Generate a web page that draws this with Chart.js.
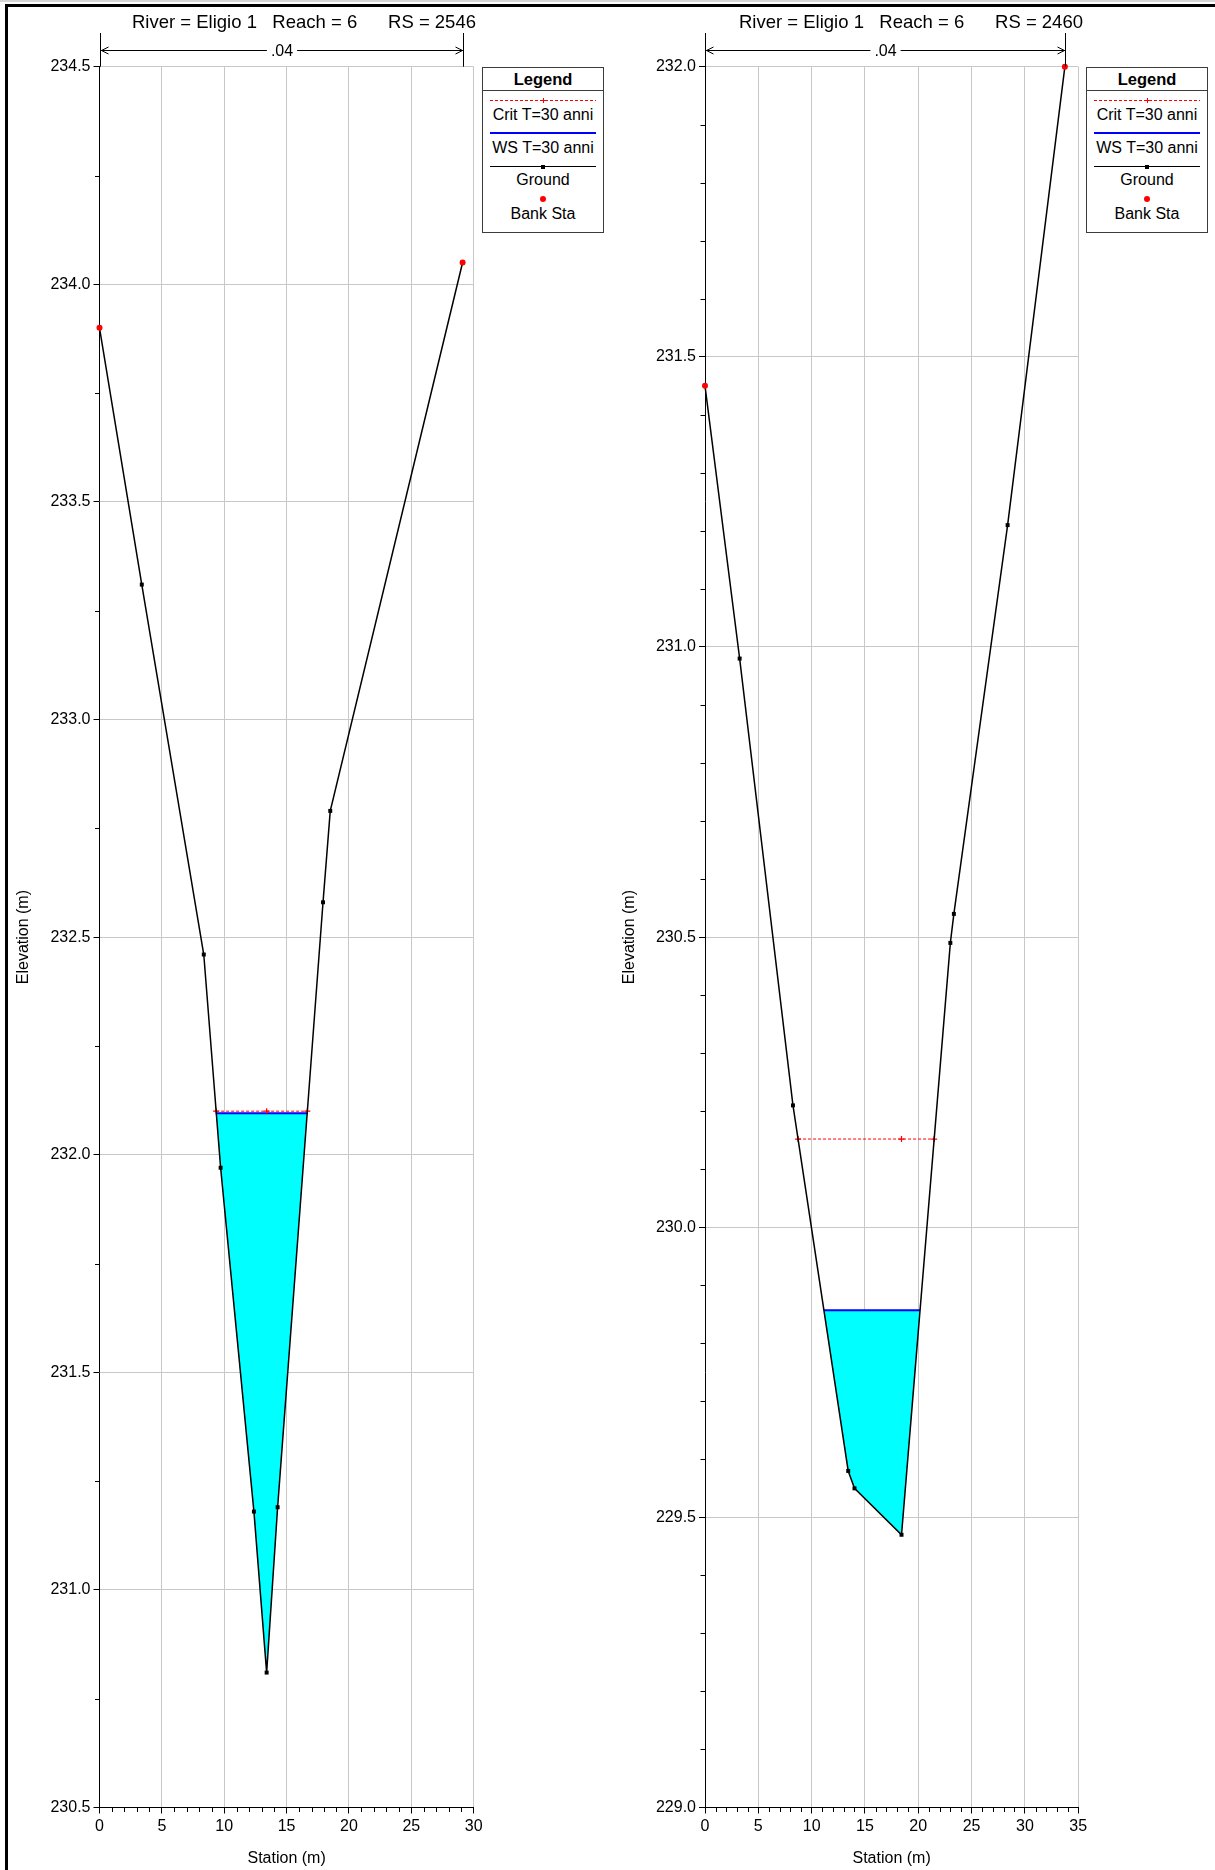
<!DOCTYPE html>
<html>
<head>
<meta charset="utf-8">
<title>Eligio 1 - cross sections RS 2546 / RS 2460</title>
<script src="https://cdn.jsdelivr.net/npm/chart.js@4.4.1/dist/chart.umd.min.js"></script>
<style>
  html, body { margin: 0; padding: 0; background: #fff; }
  body { font-family: "Liberation Sans", Arial, Helvetica, sans-serif; color: #000; }
  #page { position: relative; width: 1215px; height: 1870px; overflow: hidden; background: #fff; }
  #chrome { position: absolute; left: 0; top: 0; width: 1215px; height: 2px; background: #d6d6d6; }
  #frame { position: absolute; left: 5px; top: 4px; width: 1240px; height: 1900px;
           border-left: 3px solid #000; border-top: 3px solid #000; }
  canvas { position: absolute; top: 0; }
  .title { position: absolute; top: 11px; width: 600px; height: 22px; line-height: 22px;
           font-size: 18.5px; white-space: pre; text-align: center; }
  .legend { position: absolute; top: 67px; width: 122px; height: 166px; box-sizing: border-box;
            border: 1px solid #3c3c3c; background: #fff; }
  .legend .head { height: 22px; line-height: 23px; border-bottom: 1px solid #3c3c3c;
                  font-size: 16.5px; font-weight: bold; text-align: center; }
  .legend .txt { position: absolute; left: 0; width: 120px; height: 20px; line-height: 20px;
                 font-size: 16px; text-align: center; white-space: nowrap; }
  .legend .ln { position: absolute; left: 7px; width: 106px; height: 1px; }
  .legend .mk { position: absolute; }
</style>
</head>
<body>
<div id="page">
  <div id="chrome"></div>
  <div id="frame"></div>
  <canvas id="secA" width="607" height="1870" style="left:0px"></canvas>
  <canvas id="secB" width="609" height="1870" style="left:606px"></canvas>
</div>
<script>
// ---- River "Eligio 1", reach 6: two surveyed cross sections ----

// RS 2546
const stationsA = [0, 3.39, 8.36, 9.71, 12.38, 13.40, 14.28, 17.92, 18.50, 29.11];
const groundA   = [233.90, 233.31, 232.46, 231.97, 231.18, 230.81, 231.19, 232.58, 232.79, 234.05];
const bankStaA  = [0, 29.11];
const wsA       = 232.095;   // WS T=30 anni
const critA     = 232.10;    // Crit T=30 anni
const manningA  = ".04";
const xTicksA   = [0, 5, 10, 15, 20, 25, 30];
const yTicksA   = [230.5, 231.0, 231.5, 232.0, 232.5, 233.0, 233.5, 234.0, 234.5];

// RS 2460
const stationsB = [0, 3.25, 8.25, 13.43, 14.02, 18.43, 23.01, 23.34, 28.38, 33.75];
const groundB   = [231.45, 230.98, 230.21, 229.58, 229.55, 229.47, 230.49, 230.54, 231.21, 232.00];
const bankStaB  = [0, 33.75];
const wsB       = 229.857;
const critB     = 230.152;
const manningB  = ".04";
const xTicksB   = [0, 5, 10, 15, 20, 25, 30, 35];
const yTicksB   = [229.0, 229.5, 230.0, 230.5, 231.0, 231.5, 232.0];

const seriesNames = ["Crit T=30 anni", "WS T=30 anni", "Ground", "Bank Sta"];

const FONT = '"Liberation Sans", Arial, Helvetica, sans-serif';
const GRID = '#c8c8c8';

// Where a horizontal water level meets the ground on each side of the lowest point
function waterEdges(sta, elev, level) {
  const iMin = elev.indexOf(Math.min(...elev));
  let left = sta[0], right = sta[sta.length - 1];
  for (let i = iMin; i > 0; i--) {
    if (elev[i - 1] >= level) {
      const t = (level - elev[i]) / (elev[i - 1] - elev[i]);
      left = sta[i] + t * (sta[i - 1] - sta[i]);
      break;
    }
  }
  for (let i = iMin; i < sta.length - 1; i++) {
    if (elev[i + 1] >= level) {
      const t = (level - elev[i]) / (elev[i + 1] - elev[i]);
      right = sta[i] + t * (sta[i + 1] - sta[i]);
      break;
    }
  }
  return [left, right];
}

const near = (a, b) => Math.abs(a - b) < 1e-6;
const inList = (list, v) => list.some(t => near(t, v));

// Short minor tick marks on both axes (major ones are drawn by the scales)
const minorTicks = {
  id: 'minorTicks',
  afterDraw(chart, args, opts) {
    const ctx = chart.ctx;
    const {x, y} = chart.scales;
    ctx.save();
    ctx.strokeStyle = '#000';
    ctx.lineWidth = 1;
    ctx.beginPath();
    x.ticks.forEach(t => {
      if (inList(opts.xMajor, t.value)) return;
      const px = Math.round(x.getPixelForValue(t.value)) + 0.5;
      ctx.moveTo(px, x.top); ctx.lineTo(px, x.top + 4.5);
    });
    y.ticks.forEach(t => {
      if (inList(opts.yMajor, t.value)) return;
      const py = Math.round(y.getPixelForValue(t.value)) + 0.5;
      ctx.moveTo(y.right - 4.5, py); ctx.lineTo(y.right, py);
    });
    ctx.stroke();
    ctx.restore();
  }
};

// Manning's n between the bank stations, above the plot
const manningBar = {
  id: 'manningBar',
  afterDraw(chart, args, opts) {
    const ctx = chart.ctx;
    const xs = chart.scales.x;
    const top = chart.chartArea.top;
    const x1 = Math.round(xs.getPixelForValue(opts.banks[0])) + 0.5;
    const x2 = Math.round(xs.getPixelForValue(opts.banks[1])) + 0.5;
    const yBar = 50.5;
    ctx.save();
    ctx.strokeStyle = '#000';
    ctx.fillStyle = '#000';
    ctx.lineWidth = 1;
    ctx.font = '16px ' + FONT;
    const tw = ctx.measureText(opts.text).width;
    const mid = (x1 + x2) / 2;
    ctx.beginPath();
    ctx.moveTo(x1, 33); ctx.lineTo(x1, top);
    ctx.moveTo(x2, 33); ctx.lineTo(x2, top);
    ctx.moveTo(x1, yBar); ctx.lineTo(mid - tw / 2 - 4, yBar);
    ctx.moveTo(mid + tw / 2 + 4, yBar); ctx.lineTo(x2, yBar);
    // open arrow heads
    ctx.moveTo(x1 + 8, yBar - 3.5); ctx.lineTo(x1 + 1, yBar); ctx.lineTo(x1 + 8, yBar + 3.5);
    ctx.moveTo(x2 - 8, yBar - 3.5); ctx.lineTo(x2 - 1, yBar); ctx.lineTo(x2 - 8, yBar + 3.5);
    ctx.stroke();
    ctx.textAlign = 'center';
    ctx.textBaseline = 'middle';
    ctx.fillText(opts.text, mid, yBar + 1);
    ctx.restore();
  }
};

function buildSection(cfg) {
  const [wl, wr] = waterEdges(cfg.sta, cfg.elev, cfg.ws);
  const [cl, cr] = waterEdges(cfg.sta, cfg.elev, cfg.crit);
  const thalweg = cfg.sta[cfg.elev.indexOf(Math.min(...cfg.elev))];
  const ground = cfg.sta.map((s, i) => ({x: s, y: cfg.elev[i]}));
  const banks = cfg.banks.map(b => ({x: b, y: cfg.elev[cfg.sta.indexOf(b)]}));
  const xMin = cfg.xTicks[0], xMax = cfg.xTicks[cfg.xTicks.length - 1];
  const yMin = cfg.yTicks[0], yMax = cfg.yTicks[cfg.yTicks.length - 1];

  new Chart(document.getElementById(cfg.canvas), {
    type: 'line',
    data: {
      datasets: [
        { label: seriesNames[3], data: banks, showLine: false, order: 0, clip: false,
          pointStyle: 'circle', pointRadius: 3, pointBackgroundColor: '#ff0000',
          pointBorderColor: '#ff0000', pointBorderWidth: 0 },
        { label: seriesNames[2], data: ground, order: 1, clip: false, tension: 0, fill: false,
          borderColor: '#000', borderWidth: 1.5,
          pointStyle: 'rect', pointRadius: 2.8, pointBackgroundColor: '#000',
          pointBorderColor: '#000', pointBorderWidth: 0 },
        { label: seriesNames[0],
          data: [{x: cl, y: cfg.crit}, {x: thalweg, y: cfg.crit}, {x: cr, y: cfg.crit}],
          order: 2, fill: false, borderColor: '#ff0000', borderWidth: 1, borderDash: [3, 2],
          pointStyle: 'cross', pointRadius: 3, pointBorderColor: '#ff0000', pointBorderWidth: 1.2 },
        { label: seriesNames[1], data: [{x: wl, y: cfg.ws}, {x: wr, y: cfg.ws}],
          order: 3, borderColor: '#0000ff', borderWidth: 2, pointRadius: 0,
          fill: {target: 1}, backgroundColor: '#00ffff' }
      ]
    },
    options: {
      responsive: false,
      animation: false,
      events: [],
      layout: { padding: { left: 0, right: cfg.padRight, top: 66.7, bottom: 0 } },
      plugins: {
        legend: { display: false },
        title: { display: false },
        tooltip: { enabled: false },
        minorTicks: { xMajor: cfg.xTicks, yMajor: cfg.yTicks },
        manningBar: { banks: cfg.banks, text: cfg.manning }
      },
      scales: {
        x: {
          type: 'linear', min: xMin, max: xMax,
          afterFit: s => { s.height = 62.5; },
          border: { color: '#000', width: 1 },
          grid: {
            lineWidth: 1, tickLength: 6,
            color: c => (inList(cfg.xTicks, c.tick.value) && !near(c.tick.value, xMin)) ? GRID : 'rgba(0,0,0,0)',
            tickColor: c => inList(cfg.xTicks, c.tick.value) ? '#000' : 'rgba(0,0,0,0)'
          },
          ticks: {
            stepSize: 1, autoSkip: false, maxRotation: 0, padding: 3, color: '#000',
            font: { family: FONT, size: 16 },
            callback: v => inList(cfg.xTicks, v) ? String(Math.round(v)) : ''
          },
          title: { display: true, text: 'Station (m)', color: '#000',
                   font: { family: FONT, size: 16 }, padding: { top: 0, bottom: 1.5 } }
        },
        y: {
          type: 'linear', min: yMin, max: yMax,
          afterFit: s => { s.width = cfg.axisWidth; },
          border: { color: '#000', width: 1 },
          grid: {
            lineWidth: 1, tickLength: 6,
            color: c => (inList(cfg.yTicks, c.tick.value) && !near(c.tick.value, yMin)) ? GRID : 'rgba(0,0,0,0)',
            tickColor: c => inList(cfg.yTicks, c.tick.value) ? '#000' : 'rgba(0,0,0,0)'
          },
          ticks: {
            stepSize: cfg.yMinor, autoSkip: false, padding: 3, color: '#000',
            font: { family: FONT, size: 16 },
            callback: v => inList(cfg.yTicks, v) ? v.toFixed(1) : ''
          },
          title: { display: true, text: 'Elevation (m)', color: '#000',
                   font: { family: FONT, size: 16 }, padding: { top: 14.4, bottom: 0 } }
        }
      }
    },
    plugins: [minorTicks, manningBar]
  });
}

// Title line and boxed legend of one section
function addCaption(cfg) {
  const page = document.getElementById('page');
  const t = document.createElement('div');
  t.className = 'title';
  t.style.left = (cfg.titleCenter - 300) + 'px';
  t.textContent = cfg.title;
  page.appendChild(t);

  const lg = document.createElement('div');
  lg.className = 'legend';
  lg.style.left = cfg.legendLeft + 'px';
  const head = document.createElement('div');
  head.className = 'head';
  head.textContent = 'Legend';
  lg.appendChild(head);

  const add = (cls, css) => {
    const d = document.createElement('div');
    d.className = cls;
    Object.assign(d.style, css);
    lg.appendChild(d);
    return d;
  };
  const text = (label, centerY) => {
    const d = add('txt', { top: (centerY - 10) + 'px' });
    d.textContent = label;
  };
  // Crit: dashed red with a cross
  add('ln', { top: '32px', background: 'repeating-linear-gradient(90deg,#ff0000 0 3px,transparent 3px 5px)' });
  add('mk', { left: '58px', width: '5px', height: '1px', background: '#ff0000', top: '32px' });
  add('mk', { left: '60px', top: '30px', width: '1px', height: '5px', background: '#ff0000' });
  text(seriesNames[0], 46.5);
  // WS: solid blue
  add('ln', { top: '64px', height: '1.5px', background: '#0000ff' });
  text(seriesNames[1], 80);
  // Ground: black with square marker
  add('ln', { top: '98px', background: '#000' });
  add('mk', { left: '58px', top: '96.5px', width: '4px', height: '4px', background: '#000' });
  text(seriesNames[2], 112);
  // Bank Sta: red dot
  add('mk', { left: '57px', top: '127.5px', width: '6px', height: '6px', borderRadius: '50%', background: '#ff0000' });
  text(seriesNames[3], 146);
  page.appendChild(lg);
}

buildSection({ canvas: 'secA', sta: stationsA, elev: groundA, banks: bankStaA, ws: wsA, crit: critA,
               manning: manningA, xTicks: xTicksA, yTicks: yTicksA, yMinor: 0.25,
               axisWidth: 99.5, padRight: 133.3 });
buildSection({ canvas: 'secB', sta: stationsB, elev: groundB, banks: bankStaB, ws: wsB, crit: critB,
               manning: manningB, xTicks: xTicksB, yTicks: yTicksB, yMinor: 0.1,
               axisWidth: 99, padRight: 136.8 });

addCaption({ title: 'River = Eligio 1   Reach = 6      RS = 2546', titleCenter: 304, legendLeft: 482 });
addCaption({ title: 'River = Eligio 1   Reach = 6      RS = 2460', titleCenter: 911, legendLeft: 1086 });
</script>
</body>
</html>
